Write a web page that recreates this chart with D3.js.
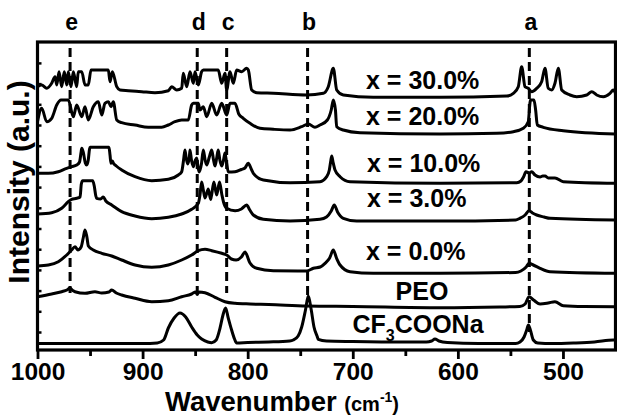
<!DOCTYPE html>
<html><head><meta charset="utf-8">
<script src="https://cdn.jsdelivr.net/npm/d3@7"></script>
<style>
body{margin:0;background:#fff}
svg{display:block}
text{font-family:"Liberation Sans",Arial,Helvetica,sans-serif;font-weight:bold;fill:#000}
</style>
</head><body>
<svg id="chart" width="617" height="415"></svg>
<script>
// ---------- DATA ----------
const seriesNames = ["x = 30.0%", "x = 20.0%", "x = 10.0%", "x = 3.0%", "x = 0.0%", "PEO", "CF3COONa"];

// each spectrum: [wavenumber (cm-1), stacked intensity (a.u.)]
const spec30 = [[1000,263.3],[996,265],[991.2,261.7],[986.5,266.7],[983.3,273.3],[981.7,265],[979.5,278.3],[977,263.3],[974.5,278.3],[972.2,265],[970.7,278.3],[968.1,263.3],[965.9,278.3],[962.7,263.3],[961.2,278.3],[957.9,278.3],[954.8,265],[951.7,265],[949.1,280],[932.6,280],[931,268.3],[928.8,278.3],[924.6,263.3],[921.5,260],[913.6,259.3],[900.8,258.3],[888.2,257.3],[875.5,259.3],[872.3,263.3],[867.5,260],[862.8,261.7],[861.3,276.7],[858,263.3],[854.9,278.3],[851.7,266.7],[850.1,278.3],[847,265],[843.8,278.3],[842.2,280],[828,280],[824.7,266.7],[821.6,276.7],[820,260],[816.8,278.3],[813.7,266.7],[810.5,280],[805.7,278.3],[801,281.7],[799.4,280],[796.2,260],[791.4,257.3],[775.6,256.7],[743.8,255],[728,256.7],[723.3,263.3],[718.5,281.7],[715.3,260],[709,255],[680.5,252.7],[617,252.7],[553.5,254],[547.2,256.7],[542.5,263.3],[539.3,283.3],[536.1,263.3],[533,261.7],[529.8,258.3],[525,261.7],[520.3,268.3],[517.1,281.7],[514,261.7],[510.7,260],[507.6,266.7],[504.4,281.7],[501.2,260],[493.3,255],[486.9,253.3],[477.4,255],[472.6,258.3],[467.9,255],[461.6,253.3],[455.2,256.7],[452.1,260],[450,256.7]];

const spec20 = [[1000,228.3],[996,241.7],[991.2,228.3],[986.5,231.7],[981.7,245],[977.6,250],[970.7,250],[965.9,233.3],[962.7,245],[957.9,233.3],[954.8,243.3],[951.7,230],[946.9,243.3],[942.1,248.3],[938.9,235],[935.8,246.7],[932.6,248.3],[930,243.3],[927.9,248.3],[924.6,230],[919.9,227.3],[907.2,225],[894.6,222.7],[881.8,222.7],[875.5,225],[869.2,228.3],[862.8,230],[856.5,230],[853.3,245],[851.7,246.7],[847,246.7],[845.4,240],[842.2,243.3],[839,233.3],[834.2,246.7],[829.5,235],[824.7,246.7],[820,235],[816.8,246.7],[812.1,246.7],[808.5,236],[804.2,231.7],[797.8,226.7],[788.3,221.7],[775.6,220.7],[759.7,220],[748.6,223.3],[742.3,226],[736,222.7],[731.2,225],[724.2,230],[720.5,240],[718.5,250],[716.5,240],[715.3,223.3],[709,220],[693.1,217.3],[617,216],[563,216.7],[547.2,218.3],[537.7,221.7],[533,228.3],[531.5,246],[530.9,250],[527.6,250],[526,240],[524.4,225],[518.7,222.7],[499.7,219.3],[450,216]];

const spec10 = [[1000,176.7],[989.7,176.7],[980.2,178.3],[972.2,181.7],[967.5,183.3],[962.7,185],[960,188],[958.5,198],[957.9,201.7],[956.5,198],[954.5,187],[953.2,185],[951.7,190],[950.5,201],[950,202.7],[932,202.7],[931,195],[930.1,186.7],[928.8,189],[927.9,187],[925,184],[919.9,180],[907.2,173.3],[891.3,169.3],[875.5,170.7],[866,175],[862.8,178.3],[861,190],[859.7,200],[858.5,192],[857.1,186],[855.5,193],[854.9,200],[853.5,190],[851.7,183.3],[849.8,190],[848.5,192],[847,181],[846,178],[844,186],[842.2,200],[840.5,190],[839,185],[836.5,193],[834.2,200],[832.5,190],[831.1,184],[829.5,192],[828,200],[826.5,190],[824.7,184],[823,190],[821.6,197],[820.2,188],[818.4,178],[812,178.3],[806,180.5],[802.6,182],[799.5,186.7],[796.2,180],[794.6,176.7],[785.1,170],[759.7,167.3],[731.2,168.3],[724.8,173.3],[722.3,180],[720.8,190],[720,194],[718.8,188],[716.9,180],[712.1,173.3],[702.6,168.3],[617,166.7],[544,167.3],[540,169],[537.5,173],[535.2,178.3],[532,177],[529.8,178.3],[526.6,175],[521.8,173],[519.2,174],[517,174],[514,172],[507.6,172],[499.7,168.3],[450,166.7]];

const spec3 = [[1000,136],[986.5,137.3],[977,141.7],[970.7,148.3],[967.5,150.7],[962.7,151.7],[959.5,153],[958.3,166],[957,169.3],[947.5,169.3],[946,164],[944.5,154],[943.7,151.7],[940,151],[937.4,153],[935,149],[929.4,145],[919.9,138.3],[907.2,134],[891.3,131.3],[875.5,132.7],[862.8,136],[853.3,140.7],[847,146.7],[845.4,155],[843.8,168],[842.2,160],[840.6,152],[837.5,161],[835.2,150.5],[832.2,168],[829.5,155],[826.8,168],[824.5,155],[823,148],[820,141.7],[812,139.3],[806,141],[801,145],[798,140],[794.6,135],[785.1,130.7],[759.7,129],[731.2,130.7],[725,133],[720.5,139],[717.6,145],[714.5,138],[709,131.7],[696.3,129],[617,129],[545,130],[541,131.7],[536,135],[532.3,139.3],[529,137],[525,135],[518,133],[512.3,131.7],[450,130]];

const spec0 = [[1000,84],[989.7,85],[980.2,88.3],[972.2,95],[967.5,100],[964.3,103.3],[961.7,100],[958.5,103],[956.5,112],[954.8,120],[953,113],[951.6,104],[946.9,100],[938.9,96.7],[929.4,94],[919.9,90],[907.2,85],[891.3,82.7],[875.5,85],[862.8,90],[853.3,95],[847,99.3],[840.6,100.7],[834.2,99.3],[824.7,96.7],[820,95],[815.5,91],[811,90],[806,93],[802.6,98],[797.8,87],[791.4,81.7],[775.6,79.3],[743.8,79],[737.5,81.7],[731,83],[726.4,86.7],[722,92],[718.5,100],[715.5,92],[712.1,85],[702.6,78.3],[680.5,76.7],[617,76.7],[545,77.5],[540,79],[535,83],[532.3,86.7],[528.2,85],[521.8,81.7],[512.3,78.3],[450,76.7]];

const specPEO = [[1000,53.3],[986.5,56],[977,58.3],[972,60],[969.1,62],[966.5,59.5],[964.3,58.3],[954.8,56.7],[945.3,58.3],[938.9,57],[932,58],[929.4,60],[925,57],[919.9,55],[907.2,51.7],[891.3,48.3],[875.5,49.3],[862.8,53.3],[853.3,56],[849.5,58],[848,55.5],[846.5,58],[840.6,57.3],[831.1,52.7],[821.6,48.3],[812,46.7],[797.8,46],[780,45.5],[743.8,44],[700,43.5],[617,42.3],[560,43],[541,43.5],[536,46],[532.3,53.3],[528,50],[521.8,46],[514,47],[507.6,48.3],[499.7,44.3],[480,43.5],[450,43.3]];

const specCF3 = [[1000,6.5],[950,6.5],[900,6.5],[886,7],[880,10],[875.5,22],[870,32],[864.4,37],[859,33],[853.3,23],[848,15],[843.8,11],[838,8],[834.2,7.3],[830,10],[826.3,22],[823.5,35],[821,42],[818.5,32],[815.3,20],[812.5,11],[810.5,7],[800,7.5],[780,8],[760,9],[756.6,10],[752,14],[748.6,23],[745,40],[742.3,54],[739.5,40],[736.9,23],[734,14],[732.8,10.7],[725,9],[700,8.5],[650,8],[630,8],[625,9],[621.8,11],[618,9],[610,7.5],[580,6.5],[545,6.5],[540.9,8],[537,13],[534.5,20],[532.9,25],[531,20],[528.2,10],[524,7],[510,6.5],[490,7],[470,8],[452,10],[450,10]];

const spectra = [spec30, spec20, spec10, spec3, spec0, specPEO, specCF3];

// band markers
const bandLetters = ["a", "b", "c", "d", "e"];
const bandWavenumbers = [532, 743, 820, 848, 969];
const bandBottoms = [18, 50, 57, 57, 57];
const bandTop = 302;

// axis ticks
const xMajorTicks = [1000, 900, 800, 700, 600, 500];
const xMinorTicks = [950, 850, 750, 650, 550];
const xDomain = [1000, 450];
const yDomain = [0, 308];
const yTicks = d3.range(18, 300, 20.7);

// ---------- LAYOUT ----------
const W = 617, H = 415;
const m = {left: 37.5, right: 1.5, top: 42, bottom: 65};
const svg = d3.select("#chart");
const x = d3.scaleLinear().domain(xDomain).range([m.left, W - m.right]);
const y = d3.scaleLinear().domain(yDomain).range([H - m.bottom, m.top]);

// spectra
const line = d3.line().x(d => x(d[0])).y(d => y(d[1])).curve(d3.curveMonotoneX);
svg.append("g").selectAll("path").data(spectra).join("path")
  .attr("d", line).attr("fill", "none").attr("stroke", "#000")
  .attr("stroke-width", 3).attr("stroke-linejoin", "round");

// dashed band lines
svg.append("g").selectAll("line").data(bandWavenumbers).join("line")
  .attr("x1", d => x(d)).attr("x2", d => x(d))
  .attr("y1", y(bandTop)).attr("y2", (d, i) => y(bandBottoms[i]))
  .attr("stroke", "#000").attr("stroke-width", 3).attr("stroke-dasharray", "9,5");

svg.append("g").selectAll("text").data(bandLetters).join("text")
  .attr("x", (d, i) => x(bandWavenumbers[i]) + 1.5).attr("y", 30)
  .attr("text-anchor", "middle").attr("font-size", 23).text(d => d);

// frame
svg.append("rect").attr("x", m.left).attr("y", m.top)
  .attr("width", W - m.right - m.left).attr("height", H - m.bottom - m.top)
  .attr("fill", "none").attr("stroke", "#000").attr("stroke-width", 3.2);

// x axis
const xAxis = svg.append("g").attr("transform", `translate(0,${H - m.bottom})`);
xAxis.call(d3.axisBottom(x).tickValues(xMajorTicks).tickSize(9).tickPadding(4).tickFormat(d3.format("d")));
xAxis.select(".domain").remove();
xAxis.selectAll(".tick line").attr("stroke-width", 2.8);
xAxis.selectAll(".tick text").attr("font-size", 24.5).attr("font-family", null);
const xMinor = svg.append("g").attr("transform", `translate(0,${H - m.bottom})`);
xMinor.call(d3.axisBottom(x).tickValues(xMinorTicks).tickSize(6).tickFormat(""));
xMinor.select(".domain").remove();
xMinor.selectAll(".tick line").attr("stroke-width", 2.8);

// y axis ticks (inward, no labels)
const yAxis = svg.append("g").attr("transform", `translate(${m.left},0)`);
yAxis.call(d3.axisRight(y).tickValues(yTicks).tickSize(4).tickFormat(""));
yAxis.select(".domain").remove();
yAxis.selectAll(".tick line").attr("stroke-width", 2.5);

// series labels
const labelPos = [[366, 88.5, "start"], [366, 125, "start"], [367, 171.7, "start"], [367, 206.7, "start"], [366, 260, "start"], [422, 300, "middle"], [418, 333, "middle"]];
svg.append("g").selectAll("text").data(seriesNames).join("text")
  .attr("x", (d, i) => labelPos[i][0]).attr("y", (d, i) => labelPos[i][1])
  .attr("text-anchor", (d, i) => labelPos[i][2]).attr("font-size", 25)
  .each(function(d) {
    const t = d3.select(this);
    if (d === "CF3COONa") {
      t.append("tspan").text("CF");
      t.append("tspan").attr("font-size", 16).attr("dy", 8).text("3");
      t.append("tspan").attr("dy", -8).text("COONa");
    } else t.text(d);
  });

// axis titles
const xt = svg.append("text").attr("x", 165).attr("y", 410.5).attr("font-size", 27.5);
xt.append("tspan").text("Wavenumber ");
xt.append("tspan").attr("font-size", 20).text("(cm");
xt.append("tspan").attr("font-size", 14).attr("dy", -9).text("-1");
xt.append("tspan").attr("font-size", 20).attr("dy", 9).text(")");

svg.append("text").attr("transform", "translate(29,182) rotate(-90)")
  .attr("text-anchor", "middle").attr("font-size", 30).text("Intensity (a.u.)");
</script>
</body></html>
